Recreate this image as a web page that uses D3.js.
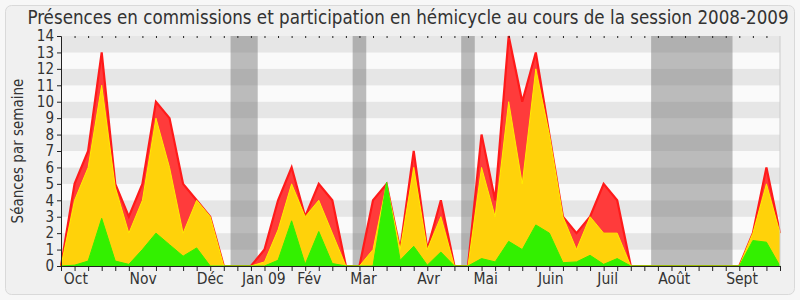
<!DOCTYPE html>
<html lang="fr">
  <head>
    <meta charset="utf-8">
    <script src="https://d3js.org/d3.v7.min.js"></script>
    <title>Présences en commissions</title>
    <style>
      body { margin: 0; background: #f7f7f7; }
      text { font-family: "DejaVu Sans Condensed", "DejaVu Sans", sans-serif; font-stretch: condensed; fill: #333; }
    </style>
  </head>
  <body>
    <script>

    // séances par semaine, une valeur par semaine (54 semaines)
    var total = [0, 5, 7, 13, 5, 3, 5, 10, 9, 5, 4, 3, 0, 0, 0, 1, 4, 6, 3, 5, 4, 0, 0, 4, 5, 1, 7, 1, 4, 0, 0,
                 8, 4, 14, 10, 13, 8, 3, 2, 3, 5, 4, 0, 0, 0, 0, 0, 0, 0, 0, 0, 2, 6, 2];
    var middle = [0, 4, 6, 11, 4.8, 2, 4, 9, 6, 2, 4, 3, 0, 0, 0, 0.25, 2.2, 5, 3, 4, 2, 0, 0, 1, 5, 1, 6, 1, 3, 0, 0,
                  6, 3, 10, 5, 12, 8, 3, 1, 3, 2, 2, 0, 0, 0, 0, 0, 0, 0, 0, 0, 2, 5, 2];
    var bottom = [0, 0.05, 0.3, 2.9, 0.3, 0.1, 1, 2, 1.3, 0.6, 1.1, 0, 0, 0, 0, 0, 0.35, 2.75, 0.1, 2.1, 0.15, 0, 0, 0, 5.1, 0.35, 1.2, 0.05, 0.85, 0, 0,
                  0.45, 0.25, 1.5, 1, 2.5, 2, 0.2, 0.25, 0.65, 0.1, 0.45, 0, 0, 0, 0, 0, 0, 0, 0, 0, 1.55, 1.45, 0];

    // semaines de vacances (début, fin en index de semaine)
    var vacations = [[12.5, 14.5], [21.5, 22.5], [29.5, 30.5], [43.5, 49.5]];

    var months = ["Oct", "Nov", "Déc", "Jan 09", "Fév", "Mar", "Avr", "Mai", "Juin", "Juil", "Août", "Sept"];
    var monthPos = [1.1, 6.05, 11, 14.95, 18.3, 22.3, 27.1, 31.3, 36.1, 40.3, 45.2, 50.2];

    var yTicks = d3.range(0, 15);

    var width = 800, height = 300;
    var margin = {top: 36, left: 61, bottom: 34, right: 20};

    var x = d3.scaleLinear()
          .domain([0, total.length - 1])
          .range([margin.left, width - margin.right]);

    var y = d3.scaleLinear()
          .domain([0, 14])
          .range([height - margin.bottom, margin.top]);

    var svg = d3.select("body")
      .append("svg")
        .attr("width", width)
        .attr("height", height);

    // cadre
    svg.append("rect")
        .attr("x", 5.5).attr("y", 5.5)
        .attr("width", 789).attr("height", 289)
        .attr("rx", 6)
        .attr("fill", "#f0f0f0")
        .attr("stroke", "#d9d9d9");

    // bandes horizontales
    svg.selectAll(".stripe")
        .data(d3.range(0, 14))
      .enter().append("rect")
        .attr("class", "stripe")
        .attr("x", x(0))
        .attr("width", x(total.length - 1) - x(0))
        .attr("y", function(d) { return y(d + 1); })
        .attr("height", function(d) { return y(d) - y(d + 1); })
        .attr("fill", function(d) { return d % 2 == 1 ? "#e6e6e6" : "#fafafa"; });

    // vacances
    svg.selectAll(".vac")
        .data(vacations)
      .enter().append("rect")
        .attr("class", "vac")
        .attr("x", function(d) { return x(d[0]); })
        .attr("width", function(d) { return x(d[1]) - x(d[0]); })
        .attr("y", y(14))
        .attr("height", y(0) - y(14))
        .attr("fill", "#6e6e6e")
        .attr("fill-opacity", 0.45);

    function drawSerie(values, fill, stroke, sw) {
      var area = d3.area()
          .x(function(d, i) { return x(i); })
          .y0(y(0))
          .y1(function(d) { return y(d); });
      var line = d3.line()
          .x(function(d, i) { return x(i); })
          .y(function(d) { return y(d); });
      svg.append("path")
          .datum(values)
          .attr("d", area)
          .attr("fill", fill);
      svg.append("path")
          .datum(values)
          .attr("d", line)
          .attr("fill", "none")
          .attr("stroke", stroke)
          .attr("stroke-width", sw);
    }

    drawSerie(total, "#ff3b3b", "#ff1a1a", 2.2);
    drawSerie(middle, "#ffd20a", "#ffee00", 1);
    drawSerie(bottom, "#33f000", "#33f000", 1);

    // axes
    svg.append("g")
        .attr("transform", "translate(" + x(0) + ",0)")
        .call(d3.axisLeft(y).tickValues(yTicks).tickSize(4).tickPadding(3))
        .call(function(g) {
          g.select(".domain").attr("stroke", "#222");
          g.selectAll("line").attr("stroke", "#222");
          g.selectAll("text").attr("font-size", 15).attr("fill", "#333")
            .attr("font-family", "DejaVu Sans Condensed, DejaVu Sans, sans-serif");
        });

    var weeks = d3.range(0, total.length);

    svg.append("g")
        .attr("transform", "translate(0," + y(0) + ")")
        .call(d3.axisBottom(x).tickValues(weeks).tickSize(5).tickFormat(""))
        .call(function(g) {
          g.select(".domain").attr("stroke", "#222");
          g.selectAll("line").attr("stroke", "#222");
        });

    svg.append("g")
        .attr("transform", "translate(0," + y(14) + ")")
        .call(d3.axisBottom(x).tickValues(weeks.slice(1, -1)).tickSize(2).tickFormat(""))
        .call(function(g) {
          g.select(".domain").remove();
          g.selectAll("line").attr("stroke", "#222");
        });

    // bord droit
    svg.append("line")
        .attr("x1", x(total.length - 1)).attr("x2", x(total.length - 1))
        .attr("y1", y(14)).attr("y2", y(0))
        .attr("stroke", "#cccccc");

    svg.selectAll(".month")
        .data(months)
      .enter().append("text")
        .attr("class", "month")
        .attr("x", function(d, i) { return x(monthPos[i]); })
        .attr("y", 284)
        .attr("text-anchor", "middle")
        .attr("font-size", 15.5)
        .text(function(d) { return d; });

    svg.append("text")
        .attr("transform", "translate(23," + (y(7)) + ") rotate(-90)")
        .attr("text-anchor", "middle")
        .attr("font-size", 15)
        .text("Séances par semaine");

    svg.append("text")
        .attr("x", 408)
        .attr("y", 24)
        .attr("text-anchor", "middle")
        .attr("font-size", 18.6)
        .text("Présences en commissions et participation en hémicycle au cours de la session 2008-2009");

    </script>
  </body>
</html>
